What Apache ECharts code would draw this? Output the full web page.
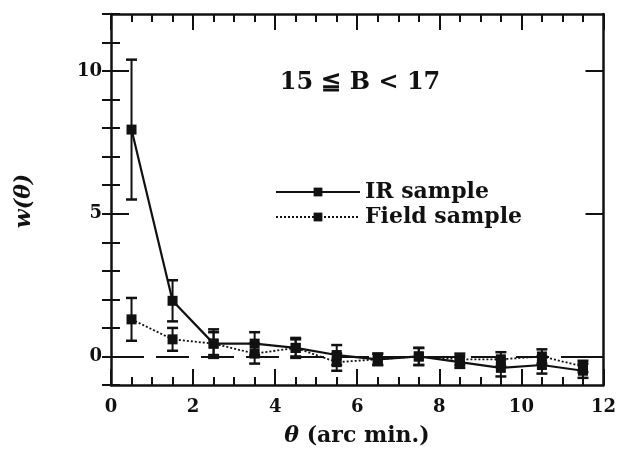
<!DOCTYPE html>
<html>
<head>
<meta charset="utf-8">
<script src="https://cdn.jsdelivr.net/npm/echarts@6/dist/echarts.min.js"></script>
<style>html,body{margin:0;padding:0;background:#fff;}#c{width:619px;height:449px;}</style>
</head>
<body>
<div id="c"></div>
<script>
// ---- data ----
var theta = [0.5, 1.5, 2.5, 3.5, 4.5, 5.5, 6.5, 7.5, 8.5, 9.5, 10.5, 11.5];
var irValues = [7.95, 1.95, 0.45, 0.45, 0.3, 0.05, -0.1, 0.0, -0.2, -0.4, -0.3, -0.5];
var irErrors = [2.45, 0.72, 0.5, 0.4, 0.35, 0.35, 0.2, 0.3, 0.2, 0.3, 0.3, 0.25];
var fieldValues = [1.3, 0.6, 0.45, 0.1, 0.3, -0.2, -0.1, 0.0, -0.1, -0.1, 0.0, -0.35];
var fieldErrors = [0.75, 0.4, 0.4, 0.35, 0.3, 0.3, 0.2, 0.3, 0.2, 0.25, 0.25, 0.2];
var xTicks = [0, 2, 4, 6, 8, 10, 12];
var yMajorTicks = [0, 5, 10];
var yMinorTicks = [-1, 0, 1, 2, 3, 4, 5, 6, 7, 8, 9, 10, 11, 12];
var seriesNames = ['IR sample', 'Field sample'];
var panelLabel = '15 \u2266 B < 17';

var FONT = 'DejaVu Serif';
var INK = '#111';

function pts(xs, ys) { return xs.map(function (x, i) { return [x, ys[i]]; }); }
function errs(xs, ys, es) { return xs.map(function (x, i) { return [x, ys[i] - es[i], ys[i] + es[i]]; }); }

function errorRender(params, api) {
  var x = api.value(0), lo = api.value(1), hi = api.value(2);
  var p1 = api.coord([x, lo]), p2 = api.coord([x, hi]);
  var w = 5.5;
  return {
    type: 'group',
    children: [
      { type: 'line', shape: { x1: p1[0], y1: p1[1], x2: p2[0], y2: p2[1] }, style: { stroke: INK, lineWidth: 2 } },
      { type: 'line', shape: { x1: p1[0] - w, y1: p1[1], x2: p1[0] + w, y2: p1[1] }, style: { stroke: INK, lineWidth: 2.5 } },
      { type: 'line', shape: { x1: p2[0] - w, y1: p2[1], x2: p2[0] + w, y2: p2[1] }, style: { stroke: INK, lineWidth: 2.5 } }
    ]
  };
}

var axisLine = { show: true, onZero: false, lineStyle: { color: INK, width: 2.5 } };
var labelStyle = { color: INK, fontFamily: FONT, fontWeight: 'bold', fontSize: 18 };

var chart = echarts.init(document.getElementById('c'), null, { renderer: 'canvas' });
chart.setOption({
  backgroundColor: '#fff',
  animation: false,
  grid: { left: 111, right: 14, top: 14, bottom: 64 },
  xAxis: [
    {
      type: 'value', position: 'bottom', min: xTicks[0], max: xTicks[xTicks.length - 1], interval: 2,
      axisLine: axisLine,
      axisTick: { show: true, inside: true, length: 16, lineStyle: { color: INK, width: 2 } },
      minorTick: { show: true, splitNumber: 4, length: 8, lineStyle: { color: INK, width: 2 } },
      axisLabel: Object.assign({ margin: 13 }, labelStyle),
      splitLine: { show: false }
    },
    {
      type: 'value', position: 'top', min: xTicks[0], max: xTicks[xTicks.length - 1], interval: 2,
      axisLine: axisLine,
      axisTick: { show: true, inside: true, length: 16, lineStyle: { color: INK, width: 2 } },
      minorTick: { show: true, splitNumber: 4, length: 8, lineStyle: { color: INK, width: 2 } },
      axisLabel: { show: false },
      splitLine: { show: false }
    }
  ],
  yAxis: [
    {
      type: 'value', position: 'left', min: -1, max: 12,
      axisLine: axisLine,
      axisTick: { show: true, inside: true, length: 18, customValues: yMajorTicks, lineStyle: { color: INK, width: 2 } },
      axisLabel: Object.assign({ margin: 9, customValues: yMajorTicks }, labelStyle),
      splitLine: { show: false }
    },
    {
      type: 'value', position: 'right', min: -1, max: 12,
      axisLine: axisLine,
      axisTick: { show: true, inside: true, length: 18, customValues: yMajorTicks, lineStyle: { color: INK, width: 2 } },
      axisLabel: { show: false },
      splitLine: { show: false }
    },
    {
      type: 'value', position: 'left', min: -1, max: 12,
      axisLine: { show: false },
      axisTick: { show: true, inside: true, length: 9, customValues: yMinorTicks, lineStyle: { color: INK, width: 2 } },
      axisLabel: { show: false },
      splitLine: { show: false }
    },
    {
      type: 'value', position: 'right', min: -1, max: 12,
      axisLine: { show: false },
      axisTick: { show: true, inside: true, length: 9, customValues: yMinorTicks, lineStyle: { color: INK, width: 2 } },
      axisLabel: { show: false },
      splitLine: { show: false }
    }
  ],
  legend: {
    orient: 'vertical', left: 270, top: 176, itemWidth: 84, itemHeight: 11, itemGap: 3,
    data: seriesNames,
    textStyle: { color: INK, fontFamily: FONT, fontWeight: 'bold', fontSize: 22, lineHeight: 22 }
  },
  graphic: [
    { type: 'text', x: 360, y: 83, style: { text: panelLabel, align: 'center', verticalAlign: 'middle', fill: INK, font: 'bold 24px "DejaVu Serif"' } },
    { type: 'text', x: 357, y: 436, style: {
        text: '{i|\u03b8} (arc min.)', align: 'center', verticalAlign: 'middle', fill: INK, font: 'bold 22px "DejaVu Serif"',
        rich: { i: { fontStyle: 'italic', fontWeight: 'bold', fontSize: 22, fontFamily: FONT, fill: INK } }
      } },
    { type: 'text', rotation: Math.PI / 2, x: 24, y: 201, style: { text: 'w(\u03b8)', align: 'center', verticalAlign: 'middle', fill: INK, font: 'italic bold 22px "DejaVu Serif"' } }
  ],
  series: [
    {
      type: 'custom', name: 'IR err', xAxisIndex: 0, yAxisIndex: 0, renderItem: errorRender,
      data: errs(theta, irValues, irErrors), silent: true, z: 3
    },
    {
      type: 'custom', name: 'Field err', xAxisIndex: 0, yAxisIndex: 0, renderItem: errorRender,
      data: errs(theta, fieldValues, fieldErrors), silent: true, z: 3
    },
    {
      type: 'line', name: seriesNames[0], xAxisIndex: 0, yAxisIndex: 0,
      data: pts(theta, irValues), symbol: 'rect', symbolSize: 10, showSymbol: true,
      lineStyle: { color: INK, width: 2.2, type: 'solid' }, itemStyle: { color: INK }, z: 4,
      markLine: {
        silent: true, symbol: ['none', 'none'], label: { show: false },
        lineStyle: { color: INK, width: 2, type: [33, 12] },
        data: [{ yAxis: 0 }]
      }
    },
    {
      type: 'line', name: seriesNames[1], xAxisIndex: 0, yAxisIndex: 0,
      data: pts(theta, fieldValues), symbol: 'rect', symbolSize: 10, showSymbol: true,
      lineStyle: { color: INK, width: 1.8, type: [2, 2] }, itemStyle: { color: INK }, z: 4
    }
  ]
});
</script>
</body>
</html>
